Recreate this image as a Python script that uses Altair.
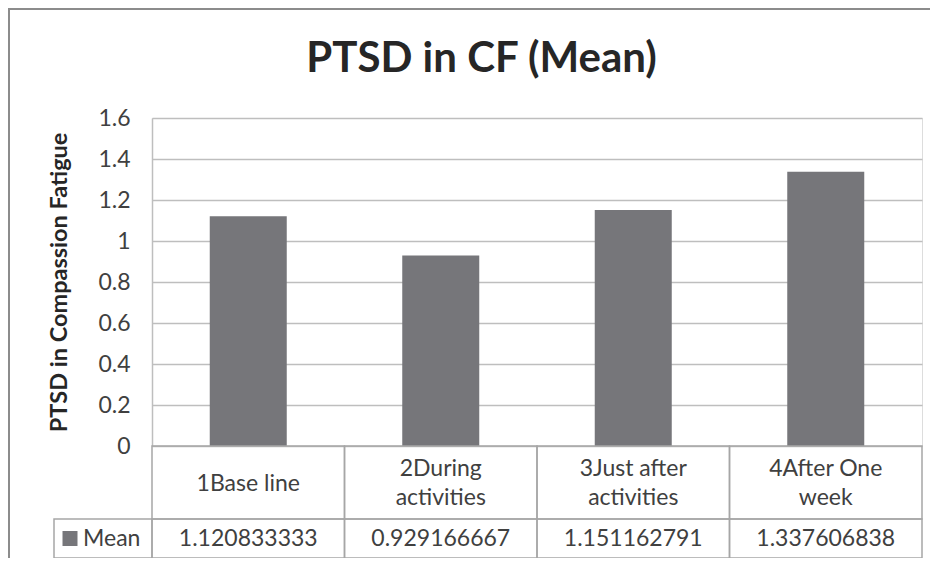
import altair as alt
import pandas as pd

# ---- data ----
title_text = ["PTSD in CF (Mean)"]
categories = ["1Base line", "2During activities", "3Just after activities", "4After One week"]
table_labels = ["1Base line", "2During\nactivities", "3Just after\nactivities", "4After One\nweek"]
means = [1.120833333, 0.929166667, 1.151162791, 1.337606838]
series_name = ["Mean"]
y_ticks = [0, 0.2, 0.4, 0.6, 0.8, 1.0, 1.2, 1.4, 1.6]

df = pd.DataFrame({"category": categories, "label": table_labels, "value": means})
legend_df = pd.DataFrame({"series": series_name})
title_df = pd.DataFrame({"title": title_text})

# ---- style ----
FONT = "Lato"
BAR = "#76767A"
GRID = "#BEBEBE"
BORDER = "#A6A6A6"
TEXT = "#404040"
W, H = 770, 328
ROW1_BOTTOM = 401
ROW2_BOTTOM = 440
FS = 23
LH = 29

x_enc = alt.X("category:N", sort=categories,
              scale=alt.Scale(paddingInner=0, paddingOuter=0), axis=None)

bars = alt.Chart(df).mark_bar(width=alt.RelativeBandSize(0.4), color=BAR).encode(
    x=x_enc,
    y=alt.Y("value:Q",
            scale=alt.Scale(domain=[0, 1.6], nice=False, zero=True),
            axis=alt.Axis(values=y_ticks, labelExpr="format(datum.value, '~g')",
                          title="PTSD in Compassion Fatigue",
                          grid=True, gridColor=GRID, gridWidth=1.5,
                          domain=True, domainColor=GRID, domainWidth=1.5,
                          ticks=False, labelPadding=22,
                          labelFont=FONT, labelFontSize=FS, labelColor=TEXT,
                          titleFont=FONT, titleFontSize=23.5, titleFontWeight="bold",
                          titleColor="#262626", titleX=-93, titleY=H / 2,
                          titleAngle=270, titleAlign="center", titleBaseline="middle")),
)

row1_cells = alt.Chart(df).mark_rect(fill="white", fillOpacity=0, stroke=BORDER, strokeWidth=1.5).encode(
    x=x_enc, y=alt.value(H), y2=alt.value(ROW1_BOTTOM))
row2_cells = alt.Chart(df).mark_rect(fill="white", fillOpacity=0, stroke=BORDER, strokeWidth=1.5).encode(
    x=x_enc, y=alt.value(ROW1_BOTTOM), y2=alt.value(ROW2_BOTTOM))
legend_cell = alt.Chart(legend_df).mark_rect(fill="white", fillOpacity=0, stroke=BORDER, strokeWidth=1.5).encode(
    x=alt.value(-98), x2=alt.value(0), y=alt.value(ROW1_BOTTOM), y2=alt.value(ROW2_BOTTOM))

ROW1_MID = (H + ROW1_BOTTOM) / 2 + 1
row1_single = alt.Chart(df).transform_filter(
    "indexof(datum.label, '\\n') < 0"
).mark_text(font=FONT, fontSize=FS, color=TEXT, baseline="middle", align="center").encode(
    x=x_enc, y=alt.value(ROW1_MID), text="label:N")
row1_multi = alt.Chart(df).transform_filter(
    "indexof(datum.label, '\\n') >= 0"
).mark_text(font=FONT, fontSize=FS, color=TEXT, lineBreak="\n", lineHeight=LH,
            baseline="middle", align="center").encode(
    x=x_enc, y=alt.value(ROW1_MID - LH / 2), text="label:N")
row2_text = alt.Chart(df).mark_text(font=FONT, fontSize=FS, color=TEXT,
                                    baseline="middle", align="center").encode(
    x=x_enc, y=alt.value((ROW1_BOTTOM + ROW2_BOTTOM) / 2), text=alt.Text("value:Q", format=".9f"))

legend_square = alt.Chart(legend_df).mark_square(size=225, color=BAR, opacity=1).encode(
    x=alt.value(-82), y=alt.value((ROW1_BOTTOM + ROW2_BOTTOM) / 2))
legend_text = alt.Chart(legend_df).mark_text(font=FONT, fontSize=FS, color=TEXT,
                                             baseline="middle", align="left").encode(
    x=alt.value(-69), y=alt.value((ROW1_BOTTOM + ROW2_BOTTOM) / 2), text="series:N")

frame = alt.Chart(legend_df).mark_rect(fill="white", fillOpacity=0, stroke="#8C8C8C", strokeWidth=2).encode(
    x=alt.value(-143), x2=alt.value(W + 200), y=alt.value(-109), y2=alt.value(H + 300))

title = alt.Chart(title_df).mark_text(font=FONT, fontSize=42, fontWeight="bold", color="#262626",
                                      align="center", baseline="alphabetic").encode(
    x=alt.value(329.5), y=alt.value(-46), text="title:N")

chart = alt.layer(
    frame, bars, row1_cells, row2_cells, legend_cell,
    row1_single, row1_multi, row2_text, legend_square, legend_text, title
).properties(
    width=W, height=H,
    autosize=alt.AutoSizeParams(type="none"),
    padding={"left": 144, "top": 110, "right": 8, "bottom": 112},
).configure_view(stroke=None).configure(background="white")

chart.save("out.html", embed_options={"renderer": "svg", "actions": False})
